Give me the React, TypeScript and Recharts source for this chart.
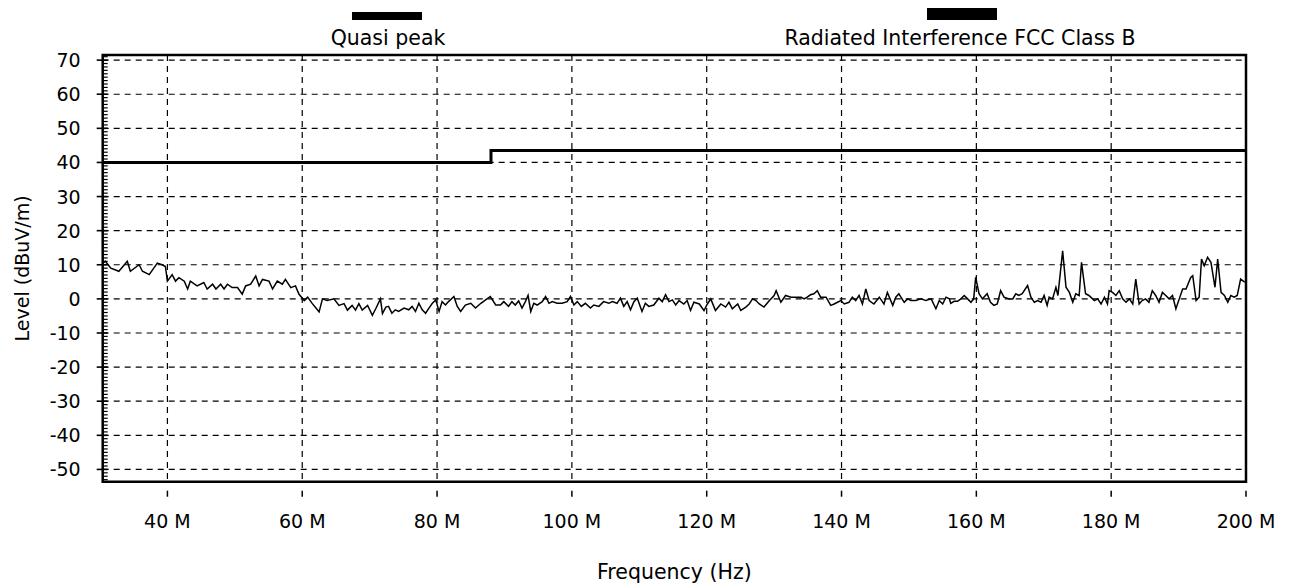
import React from 'react';
import { LineChart, Line, XAxis, YAxis, CartesianGrid, ReferenceArea, ReferenceLine, Legend } from 'recharts';

const FONT = "'DejaVu Sans', Verdana, sans-serif";

// Measured trace (Quasi peak), frequency in MHz
const traceFreqMHz = [
  30.4, 30.8, 31.6, 32.8, 34.05, 34.5, 35.8, 36.3, 37.3, 38.5, 39.2, 39.7, 40.0, 40.7, 41.2, 41.7, 42.5, 43.0, 43.4, 44.4,
  45.4, 45.9, 46.7, 47.2, 47.9, 48.4, 48.9, 49.6, 50.4, 51.1, 51.6, 52.35, 53.1, 53.6, 54.1, 55.07, 55.6, 56.3, 57.05, 57.5,
  58.3, 59.0, 59.5, 60.3, 60.8, 61.5, 62.5, 63.0, 63.7, 64.7, 65.45, 66.2, 66.7, 67.4, 67.9, 68.4, 68.9, 69.7, 70.4, 70.9,
  71.6, 71.9, 72.4,
  72.8, 73.3, 73.8, 74.3, 75.1, 75.8, 76.3, 76.8, 77.3, 77.8, 78.3, 78.8, 79.3, 79.8, 80.3, 80.75, 81.25, 81.7, 82.5, 83.0,
  83.5, 84.2, 85.0, 85.7, 86.5, 87.2, 87.9, 88.7, 89.4, 89.9, 90.6, 91.1, 91.6, 92.1, 92.6, 93.1, 93.5, 93.9, 94.35, 94.85,
  95.6, 96.1, 96.6, 97.1, 97.8, 98.55, 99.3, 99.8, 100.3, 100.8, 101.4, 102.0, 102.75, 103.25, 104.0, 104.7, 105.5, 106.0, 106.7, 107.2,
  107.7, 108.2, 108.7, 109.2, 109.7, 110.4, 110.9, 111.4, 112.15, 112.9, 113.4, 113.9, 114.4, 114.9, 115.4,
  115.9, 116.6, 117.1, 117.6, 118.1, 118.9, 119.6, 120.1, 120.6, 121.3, 122.1, 122.8, 123.3, 123.8, 124.6, 125.05, 125.8, 126.3, 126.8, 127.3,
  127.8, 128.5, 129.3, 130.0, 130.3, 131.0, 131.7, 132.5, 133.2, 134.0, 134.45, 134.9, 135.4, 135.9, 136.4, 136.9, 137.7, 138.4, 138.9, 139.4,
  139.9, 140.4, 141.1, 141.6, 142.1, 142.6, 143.1, 143.6, 144.1, 144.8, 145.6, 146.3, 146.8, 147.6, 148.05, 148.5, 149.3, 149.8, 150.3, 151.0,
  151.8, 152.5, 153.3, 154.0, 154.5, 155.0, 155.5, 156.0,
  156.2, 156.7, 157.2, 157.7, 158.2, 158.7, 159.2, 159.6, 159.9, 160.4, 160.9, 161.6, 162.1, 162.6, 163.1, 163.6, 164.1, 164.9, 165.4, 165.85,
  166.3, 166.8, 167.6, 168.1, 168.6, 169.1, 169.6, 170.05, 170.5, 170.8, 171.3, 171.8, 172.1, 172.8, 173.3, 173.8, 174.3, 174.75, 175.25, 175.6,
  176.2, 176.7, 177.5, 178.0, 178.5, 179.0, 179.45, 179.7, 180.2, 180.7, 181.2, 181.7, 182.2, 182.7, 183.2, 183.65, 184.15, 184.6, 185.1, 185.6,
  186.1, 186.6, 187.1, 187.6, 188.1, 188.6, 189.1, 189.6, 190.1, 190.6, 191.1, 191.8, 192.1, 192.6, 193.05, 193.4, 193.8, 194.3, 194.8, 195.4,
  195.8, 196.3, 196.8, 197.3, 197.75, 198.25, 198.7, 199.2, 199.8,
];

const traceLevel = [
  10.5, 11.0, 9.0, 8.1, 11.0, 8.1, 10.0, 8.1, 7.1, 10.5, 10.0, 9.5, 5.2, 7.1, 5.2, 6.2, 5.2, 2.9, 5.2, 3.8,
  4.8, 2.9, 4.3, 2.9, 4.3, 2.9, 4.3, 3.3, 3.3, 1.4, 3.8, 4.3, 6.7, 3.8, 5.7, 5.2, 2.9, 5.2, 4.3, 5.7,
  3.3, 3.8, 1.4, -0.5, 0.5, -1.4, -3.8, 0, -0.5, 0, -1.9, -1.4, -3.3, -1.9, -3.3, -1.4, -3.3, -1.9, -4.8, -2.9,
  0, -4.3, -2.4,
  -2.2, -4.2, -3.2, -3.7, -2.7, -3.2, -2.2, -3.7, -1.3, -3.2, -4.2, -2.7, -1.3, -0.3, -3.7, -0.8, -1.8, -0.8, 0.7, -2.2,
  -3.7, -1.8, -1.3, -2.7, -1.3, -0.3, 0.7, -1.8, -1.8, -0.8, -2.2, -0.8, -1.8, -0.6, -2.7, -0.8, 1.0, -3.7, -1.3, -1.8,
  -0.8, 0.7, -1.3, -0.8, -1.3, -1.3, -0.8, 0.7, -1.8, -0.8, -2.2, -1.3, -2.7, -1.8, -2.2, -0.8, -1.3, -0.8, -1.3, 0.2,
  -2.2, -0.8, -3.2, -0.8, 0.2, -3.7, -1.3, -2.2, -1.8, 0.2, -0.8, 1.2, -0.8, -0.3, -1.8,
  -0.5, -1.5, -0.5, -3.4, -1.0, -1.5, -3.4, -1.5, 0, -3.4, -1.5, -2.4, -1.0, -2.9, -1.5, -3.4, -2.4, -1.5, 0, -0.5,
  -1.5, -2.4, -0.5, 1.0, 2.4, -1.0, 1.0, 0.5, 0.5, 0.5, 0, 0.5, 1.2, 1.5, 2.4, 0.5, 0.5, -1.9, -1.5, -1.0,
  -0.5, -1.5, -1.0, 0.5, -0.5, 1.0, -1.5, 2.9, -0.5, -1.5, 0.5, -1.5, 1.9, -1.9, 0.5, 1.5, -1.0, 0, -0.5, -0.5,
  0, -0.5, 0, -2.9, -0.5, -1.5, 0.5, 0,
  -1.3, -0.7, -0.7, 0, 1.0, 0, -1.0, 0, 6.3, 1.5, 0, 1.5, -1.0, -1.9, -1.5, 2.4, 0.5, 0, 0, 1.5,
  1.0, 1.5, 3.9, 0.5, -1.0, -0.5, -1.0, 1.0, -1.9, 0.5, 0, 3.4, 1.0, 14.1, 3.4, 1.9, -1.0, 1.5, 1.0, 10.7,
  1.5, 1.0, -0.5, 0, -1.5, 0.5, -1.5, 2.4, 1.9, 1.0, 2.4, 0, -1.0, 0, -1.5, 5.8, -1.5, -0.5, 0, -1.0,
  2.4, 1.0, -1.0, 1.9, 1.0, 0, 1.0, -2.9, 0, 2.9, 2.9, 6.3, 6.8, -0.5, 0.5, 11.7, 9.7, 12.2, 10.7, 3.4,
  11.7, 1.9, 1.0, -1.0, 1.0, 0.5, 1.0, 5.8, 4.9,
];

// FCC Class B limit line
const limitFreqMHz = [30.4, 88, 88, 200];
const limitLevel = [40, 40, 43.5, 43.5];

const xTicks = [40, 60, 80, 100, 120, 140, 160, 180, 200];
const yTicks = [-50, -40, -30, -20, -10, 0, 10, 20, 30, 40, 50, 60, 70];
const X_DOMAIN: [number, number] = [30.4, 200];
const Y_DOMAIN: [number, number] = [-53.6, 71.5];

const SERIES_TRACE = 'Quasi peak';
const SERIES_LIMIT = 'Radiated Interference FCC Class B';

const traceData = traceFreqMHz.map((f, i) => ({ f, level: traceLevel[i] }));
const limitData = limitFreqMHz.map((f, i) => ({ f, level: limitLevel[i] }));
// 1-unit ruler ticks along the level axis (majors every 10 carry labels)
const rulerTicks = Array.from({ length: 125 }, (_, i) => -53 + i);

const legendPlacement: Record<string, { barX: number; barY: number; barW: number; barH: number; textX: number }> = {
  [SERIES_TRACE]: { barX: 352, barY: 12, barW: 70, barH: 8, textX: 388 },
  [SERIES_LIMIT]: { barX: 927, barY: 8, barW: 70, barH: 12, textX: 960 },
};

const LegendContent = (props: any) => {
  const payload = props.payload || [];
  return (
    <div style={{ position: 'relative', width: 1294, height: 0 }}>
      {payload.map((p: any, i: number) => {
        const pl = legendPlacement[p.value];
        if (!pl) return null;
        return (
          <React.Fragment key={i}>
            <div style={{ position: 'absolute', left: pl.barX, top: pl.barY, width: pl.barW, height: pl.barH, background: '#000' }} />
            <div
              style={{
                position: 'absolute',
                left: pl.textX,
                top: 26,
                transform: 'translateX(-50%)',
                whiteSpace: 'nowrap',
                fontFamily: FONT,
                fontSize: 20.5,
                lineHeight: '24px',
                color: '#000',
              }}
            >
              {p.value}
            </div>
          </React.Fragment>
        );
      })}
    </div>
  );
};

const XTick = (props: any) => {
  const { x, y, payload } = props;
  return (
    <g>
      <line x1={x} x2={x} y1={y + 9} y2={y + 15} stroke="#000" strokeWidth={1.5} />
      <text x={x} y={y + 46} textAnchor="middle" fontSize={19} fontFamily={FONT} fill="#000">
        {`${payload.value} M`}
      </text>
    </g>
  );
};

const YTick = (props: any) => {
  const { x, y, payload } = props;
  const v = payload.value;
  const major = Math.round(v) % 10 === 0;
  if (!major) {
    return <line x1={x} x2={x + 5} y1={y} y2={y} stroke="#000" strokeWidth={1.2} />;
  }
  return (
    <g>
      <line x1={x - 6} x2={x + 5} y1={y} y2={y} stroke="#000" strokeWidth={1.6} />
      <text x={x - 22} y={y} textAnchor="end" dominantBaseline="central" fontSize={19} fontFamily={FONT} fill="#000">
        {v}
      </text>
    </g>
  );
};

const YTitle = (props: any) => {
  const vb = props.viewBox || { x: 0, y: 0, width: 0, height: 0 };
  const cx = vb.x - 1;
  const cy = vb.y + vb.height / 2;
  return (
    <text x={cx} y={cy} transform={`rotate(-90 ${cx} ${cy})`} textAnchor="middle" dominantBaseline="central" fontSize={19} fontFamily={FONT} fill="#000">
      Level (dBuV/m)
    </text>
  );
};

const XTitle = (props: any) => {
  const vb = props.viewBox || { x: 0, y: 0, width: 0, height: 0 };
  return (
    <text x={vb.x + vb.width / 2} y={vb.y + 97} textAnchor="middle" fontSize={20.5} fontFamily={FONT} fill="#000">
      Frequency (Hz)
    </text>
  );
};

export default function App() {
  return (
    <div style={{ position: 'fixed', left: 0, top: 0, width: 1294, height: 585, background: '#fff' }}>
      <LineChart width={1294} height={585} margin={{ top: 55, right: 48, left: 22.7, bottom: 43.3 }}>
        <CartesianGrid horizontal={false} stroke="#000" strokeDasharray="6 5" strokeWidth={1.2} />
        {yTicks.map((v) => (
          <ReferenceLine key={v} y={v} stroke="#000" strokeDasharray="6 5" strokeWidth={1.2} />
        ))}
        <XAxis
          type="number"
          dataKey="f"
          domain={X_DOMAIN}
          ticks={xTicks}
          allowDataOverflow
          interval={0}
          axisLine={false}
          tickLine={false}
          tickSize={0}
          tickMargin={0}
          tick={<XTick />}
          height={60}
          label={{ content: (p: any) => <XTitle {...p} /> }}
        />
        <YAxis
          domain={Y_DOMAIN}
          ticks={rulerTicks}
          allowDataOverflow
          interval={0}
          width={80}
          axisLine={false}
          tickLine={false}
          tickSize={0}
          tickMargin={0}
          tick={<YTick />}
          label={{ content: (p: any) => <YTitle {...p} /> }}
        />
        <Legend
          verticalAlign="middle"
          align="center"
          layout="horizontal"
          wrapperStyle={{ top: 0, left: 0, width: 1294, height: 0 }}
          content={LegendContent}
        />
        <Line
          data={traceData}
          dataKey="level"
          name={SERIES_TRACE}
          type="linear"
          stroke="#000"
          strokeWidth={1.5}
          dot={false}
          activeDot={false}
          isAnimationActive={false}
        />
        <Line
          data={limitData}
          dataKey="level"
          name={SERIES_LIMIT}
          type="linear"
          stroke="#000"
          strokeWidth={3}
          dot={false}
          activeDot={false}
          isAnimationActive={false}
        />
        <ReferenceArea x1={X_DOMAIN[0]} x2={X_DOMAIN[1]} y1={Y_DOMAIN[0]} y2={Y_DOMAIN[1]} fill="none" stroke="#000" strokeWidth={2.5} ifOverflow="visible" />
      </LineChart>
    </div>
  );
}
